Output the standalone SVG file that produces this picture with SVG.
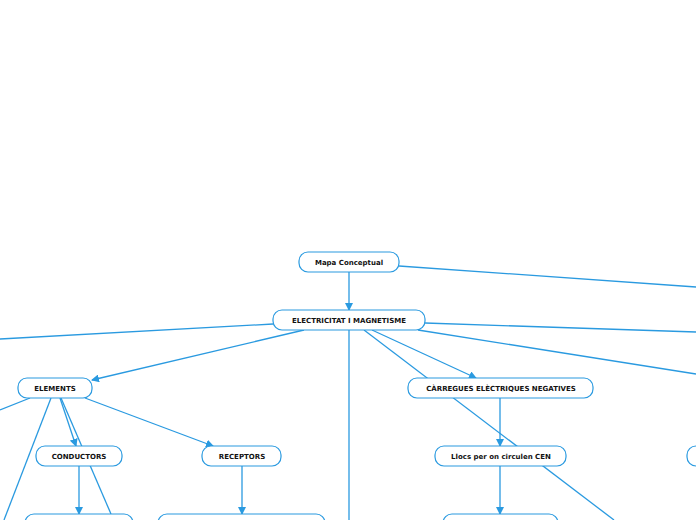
<svg xmlns="http://www.w3.org/2000/svg" width="696" height="520" viewBox="0 0 696 520">
<style>
.n rect{fill:#fff;stroke:#2a9ae0;stroke-width:1.2}
.n text{font-family:"DejaVu Sans",Verdana,sans-serif;font-weight:bold;font-size:7px;fill:#111;text-anchor:middle}
#c line{stroke:#2a9ae0;stroke-width:1.3}
</style>
<defs><marker id="a" markerWidth="8" markerHeight="8" refX="7" refY="4" orient="auto" markerUnits="userSpaceOnUse"><path d="M0,0L8,4L0,8z" fill="#2a9ae0"/></marker></defs>
<rect width="696" height="520" fill="#fff"/>
<g id="c">
<line x1="399" y1="266" x2="696" y2="287"/>
<line x1="349" y1="272" x2="349" y2="310" marker-end="url(#a)"/>
<line x1="273" y1="324" x2="0" y2="339"/>
<line x1="304" y1="330" x2="92" y2="380" marker-end="url(#a)"/>
<line x1="425" y1="323" x2="696" y2="332"/>
<line x1="418" y1="330" x2="696" y2="374"/>
<line x1="349" y1="330" x2="349" y2="520"/>
<line x1="372" y1="330" x2="476" y2="378" marker-end="url(#a)"/>
<line x1="364" y1="330" x2="614" y2="520"/>
<line x1="500" y1="398" x2="500" y2="446" marker-end="url(#a)"/>
<line x1="500" y1="466" x2="500" y2="514" marker-end="url(#a)"/>
<line x1="30" y1="398" x2="0" y2="410"/>
<line x1="51" y1="398" x2="4" y2="520"/>
<line x1="60" y1="398" x2="76" y2="446" marker-end="url(#a)"/>
<line x1="61" y1="398" x2="111" y2="514"/>
<line x1="85" y1="398" x2="213" y2="446" marker-end="url(#a)"/>
<line x1="79" y1="466" x2="79" y2="514" marker-end="url(#a)"/>
<line x1="242" y1="466" x2="242" y2="514" marker-end="url(#a)"/>
</g>
<g id="n1" class="n"><rect x="299" y="252" width="100" height="20" rx="9"/><text x="349" y="265">Mapa Conceptual</text></g>
<g id="n2" class="n"><rect x="273" y="310" width="152" height="20" rx="9"/><text x="349" y="323">ELECTRICITAT I MAGNETISME</text></g>
<g id="n3" class="n"><rect x="18" y="378" width="74" height="20" rx="9"/><text x="55" y="391">ELEMENTS</text></g>
<g id="n4" class="n"><rect x="36" y="446" width="86" height="20" rx="9"/><text x="79" y="459">CONDUCTORS</text></g>
<g id="n5" class="n"><rect x="202" y="446" width="79" height="20" rx="9"/><text x="242" y="459">RECEPTORS</text></g>
<g id="n6" class="n"><rect x="408" y="378" width="185" height="20" rx="9"/><text x="501" y="391">CÀRREGUES ELÈCTRIQUES NEGATIVES</text></g>
<g id="n7" class="n"><rect x="435" y="446" width="131" height="20" rx="9"/><text x="501" y="459">Llocs per on circulen CEN</text></g>
<g id="n8" class="n"><rect x="25" y="514" width="108" height="20" rx="9"/></g>
<g id="n9" class="n"><rect x="158" y="514" width="167" height="20" rx="9"/></g>
<g id="n10" class="n"><rect x="443" y="514" width="115" height="20" rx="9"/></g>
<g id="n11" class="n"><rect x="687" y="446" width="40" height="20" rx="9"/></g>
</svg>
